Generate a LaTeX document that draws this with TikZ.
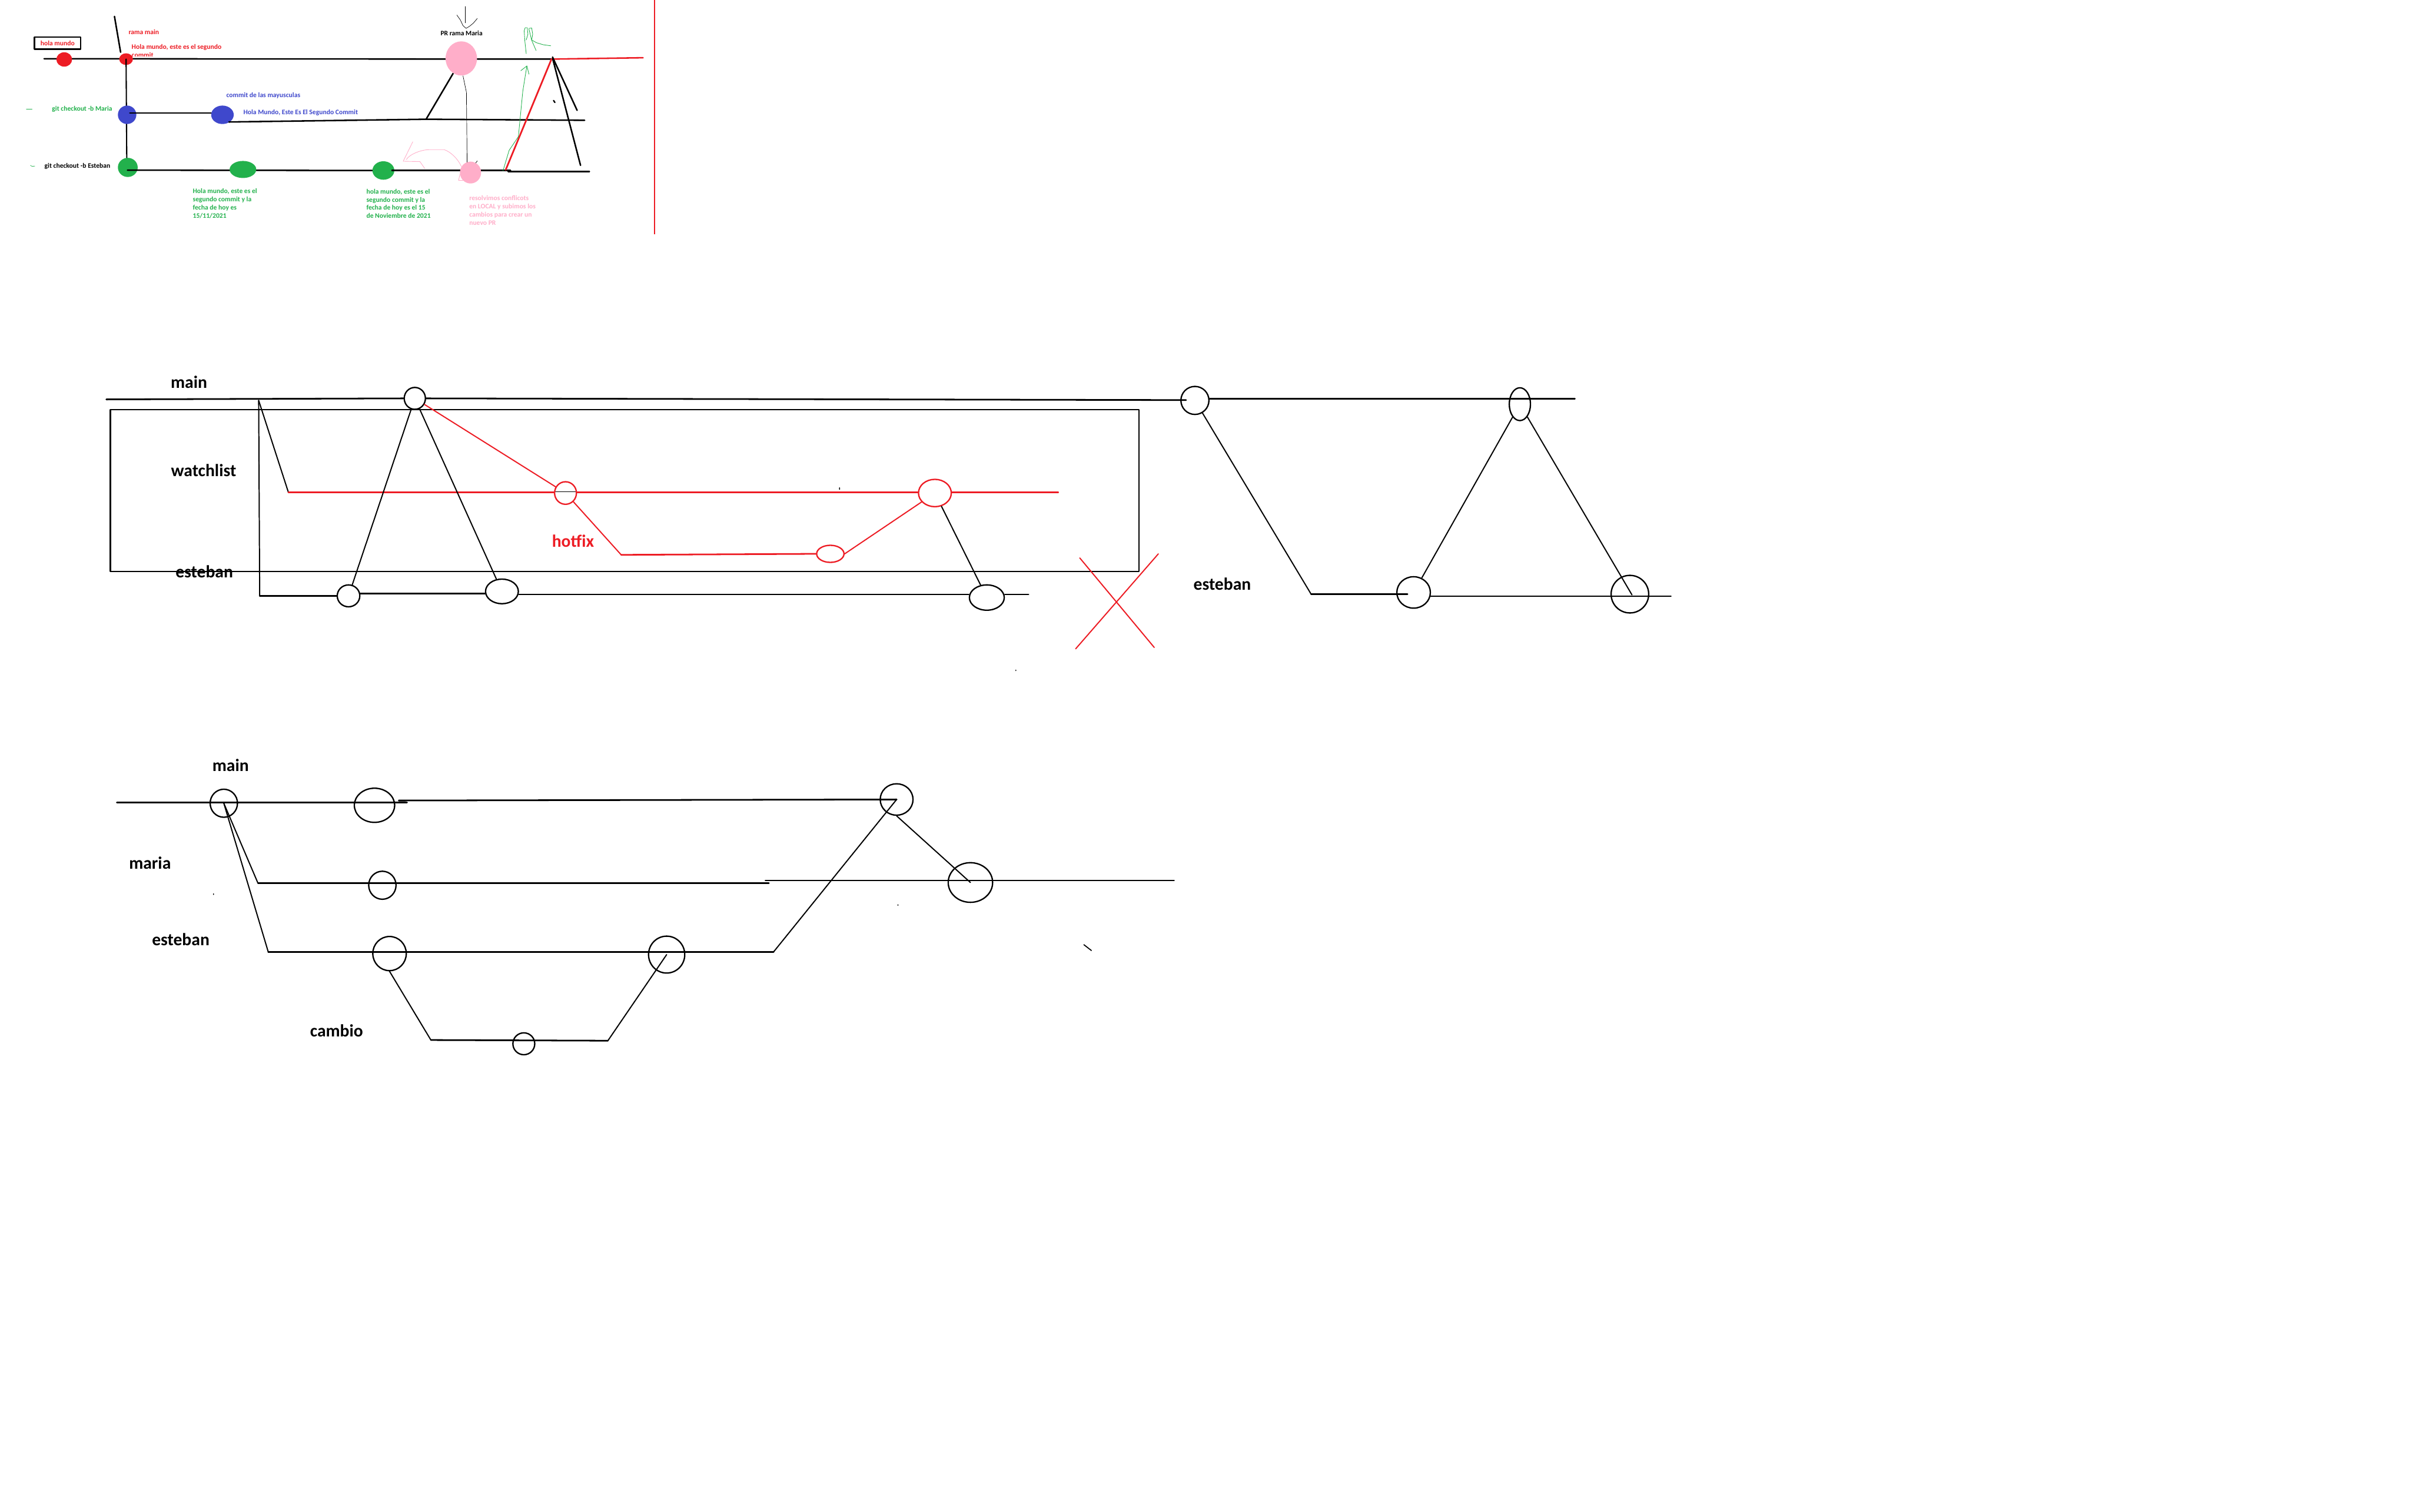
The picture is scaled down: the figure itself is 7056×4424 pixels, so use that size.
\documentclass[tikz,border=0pt]{standalone}
\usepackage{fontspec}
\newfontfamily\carl{Carlito}
\usetikzlibrary{shapes.geometric}
\definecolor{pred}{HTML}{ED1C24}
\definecolor{pblue}{HTML}{3F48CC}
\definecolor{pgreen}{HTML}{22B14C}
\definecolor{ppink}{HTML}{FFAEC9}
\begin{document}
\begin{tikzpicture}[x=0.5pt,y=-0.5pt,line cap=round,line join=round,
  tt/.style={font=\carl\bfseries\fontsize{10}{12}\selectfont,inner sep=0pt,align=left},
  bl/.style={font=\carl\bfseries\fontsize{25.5}{30}\selectfont,inner sep=0pt},
  tl/.style={line width=2.2pt},
  br/.style={line width=2.4pt},
  cn/.style={line width=1.7pt},
  hl/.style={line width=0.75pt},
  cmt/.style 2 args={ellipse,draw,line width=2pt,minimum width=#1pt,minimum height=#2pt,inner sep=0pt},
  pdot/.style 2 args={ellipse,minimum width=#1pt,minimum height=#2pt,inner sep=0pt},
]
\useasboundingbox[fill=white] (0,0) rectangle (7056,4424);

% ================= TOP SKETCH =================
\node[draw,line width=2pt,minimum width=67.5pt,minimum height=18pt,inner sep=0pt,text=pred,
      font=\carl\bfseries\fontsize{10}{12}\selectfont] (hbox) at (168.5,126) {hola mundo};

\coordinate (tm0) at (129,172);
\coordinate (tmJ) at (1614,173);
\draw[tl] (tm0) -- (tmJ);
\node[pdot={23}{21},fill=pred] (r1) at (188,174) {};
\node[pdot={20}{17},fill=pred] (r2) at (369,173) {};
\coordinate (sl0) at (335,48);
\coordinate (sl1) at (353,153);
\draw[tl] (sl0) -- (sl1);

\coordinate (vEnd) at (371,470);
\draw[line width=1.8pt] (r2.center) -- (vEnd);
\node[pdot={27}{27},fill=pblue] (b1) at (372,336) {};
\coordinate (bl0) at (380,331);
\coordinate (bl1) at (640,331);
\draw[tl] (bl0) -- (bl1);
\node[pdot={33}{27},fill=pblue] (b2) at (651,336) {};

\coordinate (ma0) at (670,357);
\coordinate (ma1) at (1247,349);
\coordinate (ma2) at (1711,352);
\draw[tl] (ma0) -- (ma1) -- (ma2);

\node[pdot={29}{28},fill=pgreen] (g1) at (374,490) {};
\coordinate (es0) at (373,498);
\coordinate (es1) at (1090,499);
\draw[tl] (es0) -- (es1);
\node[pdot={39}{25},fill=pgreen] (g2) at (711,496) {};
\node[pdot={32}{27},fill=pgreen] (g3) at (1122,499) {};
\coordinate (es2) at (1147,499);
\coordinate (es3) at (1494,499);
\draw[tl] (es2) -- (es3);
\coordinate (es4) at (1487,502);
\coordinate (es5) at (1725,502);
\draw[tl] (es4) -- (es5);

% thin line between pink commits
\coordinate (pv0) at (1355,222);
\coordinate (pv1) at (1365,270);
\coordinate (pv2) at (1367,475);
\draw[line width=0.6pt] (pv0) -- (pv1) -- (pv2);

% pink sketch arrow
\draw[hl,ppink] (1208,415) -- (1180,472) -- (1229,473) -- (1243,493);
\draw[hl,ppink] (1189,467) .. controls (1200,450) and (1235,438) .. (1256,438)
  -- (1300,438) .. controls (1320,445) and (1340,465) .. (1350,487);
\draw[hl,ppink] (1346,510) -- (1342,528) -- (1357,528);

\node[pdot={31}{32},fill=ppink] (p2) at (1377,505) {};
\draw[line width=0.6pt] (1392,477) -- (1397,471);

\coordinate (pm0) at (1326,215);
\draw[tl] (ma1) -- (pm0);
\node[pdot={46}{50},fill=ppink] (p1) at (1350,171) {};

% merge at the right
\coordinate (rl1) at (1882,169);
\draw[tl,pred] (tmJ) -- (rl1);
\coordinate (rm0) at (1480,497);
\draw[line width=2.4pt,pred] (rm0) -- (tmJ);
\coordinate (bk1) at (1689,323);
\coordinate (bk2) at (1699,484);
\draw[tl] (1617,167) -- (bk1);
\draw[tl] (1617,170) -- (bk2);
\draw[line width=2pt] (1620,294) -- (1624,300);
\coordinate (rv0) at (1915,0);
\coordinate (rv1) at (1915,685);
\draw[line width=2pt,pred,line cap=butt] (rv0) -- (rv1);

% green arrow and green R
\draw[hl,pgreen] (1472,500) -- (1490,440) -- (1517,400) -- (1530,267) -- (1538,217) -- (1542,193);
\draw[hl,pgreen] (1524,207) -- (1542,193) -- (1548,217);
\draw[hl,pgreen] (1540,157) -- (1536,120) -- (1534,90) -- (1537,81) -- (1543,81) -- (1545,100) -- (1540,117);
\draw[hl,pgreen] (1548,83) -- (1556,82) -- (1559,100) -- (1556,117) -- (1570,125) -- (1590,131) -- (1612,134);
\draw[hl,pgreen] (1548,85) -- (1556,118) -- (1569,148);

% black down arrow
\draw[line width=0.6pt] (1362,19) -- (1362,67);
\draw[line width=0.6pt] (1337,44) -- (1347,58) -- (1355,75) -- (1364,83) -- (1374,77) -- (1385,68) -- (1397,54);

% small marks
\draw[line width=0.6pt,pgreen] (77,320) -- (94,320);
\draw[line width=0.6pt,pgreen] (89,484) -- (94,487) -- (102,486);

% top texts
\node[tt,text=pred,anchor=west] (trm) at (376,93) {rama main};
\node[tt,text=pred,anchor=west] (ths) at (385,138) {Hola mundo, este es el segundo};
\begin{scope}
\clip (380,140) rectangle (470,164);
\node[tt,text=pred,anchor=base west] (tcmt) at (385,168) {commit};
\end{scope}
\node[tt,text=pgreen,anchor=west] (tgm) at (152,319) {git checkout -b Maria};
\node[tt,text=pblue,anchor=west] (tcm) at (662,280) {commit de las mayusculas};
\node[tt,text=pblue,anchor=west] (thM) at (712,329) {Hola Mundo, Este Es El Segundo Commit};
\node[tt,anchor=west] (tge) at (130,486) {git checkout -b Esteban};
\node[tt,text=pgreen,anchor=west] (tg1) at (564,596) {Hola mundo, este es el\\segundo commit y la\\fecha de hoy es\\15/11/2021};
\node[tt,text=pgreen,anchor=west] (tg2) at (1072,596) {hola mundo, este es el\\segundo commit y la\\fecha de hoy es el 15\\de Noviembre de 2021};
\node[tt,text=ppink,anchor=west] (tpk) at (1373,616) {resolvimos conflicots\\en LOCAL y subimos los\\cambios para crear un\\nuevo PR};
\node[tt,anchor=west] (tpr) at (1289,98) {PR rama Maria};

% ================= MIDDLE DIAGRAM =================
\draw[line width=2pt] (323,1199) rectangle (3333,1673);

\node[cmt={31}{32}] (mA) at (1214,1166) {};
\coordinate (mm0) at (311,1169);
\coordinate (mm1) at (3471,1171);
\draw[br] (mm0) -- (mA.west);
\draw[br] (mA.east) -- (mm1);

\coordinate (bp) at (757,1172);
\coordinate (wl0) at (844,1441);
\coordinate (wl1) at (2067,1439);
\coordinate (ew0) at (760,1744);
\draw[cn] (bp) -- (wl0);
\draw[cn] (bp) -- (ew0);

\draw[line width=0.8pt] (844,1439) -- (wl1);
\node[cmt={32}{33},pred] (wc1) at (1655,1443) {};
\node[cmt={40}{25},pred] (hc) at (2430,1621) {};
\node[cmt={48}{40},pred] (wc2) at (2736,1443) {};
\coordinate (hx0) at (1818,1624);
\coordinate (wl2) at (3097,1441);
\draw[br,pred] (wl0) -- (wc1.west |- wl0);
\draw[br,pred] (wc1.east |- wl2) -- (wc2.west |- wl2);
\draw[br,pred] (wc2.east |- wl2) -- (wl2);
\draw[cn,pred] (mA) -- (wc1);
\draw[cn,pred] (wc1) -- (hx0);
\draw[br,pred] (hx0) -- (hc.west);
\draw[cn,pred] (hc.east) -- (wc2);

\node[cmt={33}{32}] (ec1) at (1020,1744) {};
\node[cmt={48}{36}] (ec2) at (1469,1731) {};
\node[cmt={51}{37}] (ec3) at (2888,1749) {};
\coordinate (ey1) at (1053,1737);
\coordinate (ey2) at (1421,1737);
\coordinate (ew1) at (3010,1740);
\draw[br] (ew0) -- (ec1.west |- ew0);
\draw[br] (ey1) -- (ey2);
\draw[br] (ec2.east |- ew1) -- (ec3.west |- ew1);
\draw[br] (ec3.east |- ew1) -- (ew1);
\draw[cn] (mA) -- (ec1);
\draw[cn] (mA) -- (ec2);
\draw[cn] (wc2) -- (ec3);

% red X
\coordinate (x1) at (3160,1633);
\coordinate (x2) at (3378,1895);
\coordinate (x3) at (3390,1621);
\coordinate (x4) at (3148,1899);
\draw[cn,pred] (x1) -- (x2);
\draw[cn,pred] (x3) -- (x4);

% specks
\fill (2457,1430) ellipse (1.5 and 4);
\fill (2973,1962) ellipse (1.5 and 2.5);

% labels
\node[bl] (lmain) at (553,1118) {main};
\node[bl] (lwatch) at (596,1377) {watchlist};
\node[bl] (lest) at (598,1673) {esteban};
\node[bl,text=pred] (lhot) at (1677,1583) {hotfix};

% right part
\node[cmt={41}{41}] (nA) at (3497,1172) {};
\node[cmt={31}{48}] (nB) at (4448,1183) {};
\node[cmt={49}{46}] (nC) at (4137,1734) {};
\node[cmt={55}{55}] (nD) at (4770,1739) {};
\coordinate (rmE) at (4609,1167);
\draw[br] (nA.east |- rmE) -- (rmE);
\coordinate (e2s) at (3837,1739);
\coordinate (e2a) at (4119,1739);
\coordinate (e2b) at (4186,1745);
\coordinate (e2e) at (4890,1745);
\coordinate (dIn) at (4776,1741);
\draw[cn] (nA) -- (e2s);
\draw[br] (e2s) -- (e2a);
\draw[br] (e2b) -- (e2e);
\draw[cn] (nB) -- (nC);
\draw[cn] (nB) -- (dIn);
\node[bl] (lest2) at (3577,1710) {esteban};

% ================= BOTTOM DIAGRAM =================
\node[cmt={40}{41}] (nE) at (655,2351) {};
\node[cmt={59}{50}] (nF) at (1096,2357) {};
\node[cmt={48}{46}] (nG) at (2624,2340) {};
\node[cmt={40}{41}] (nM) at (1119,2591) {};
\node[cmt={65}{58}] (nH) at (2840,2583) {};
\node[cmt={49}{50}] (nI) at (1140,2791) {};
\node[cmt={53}{54}] (nJ) at (1951,2794) {};
\node[cmt={32}{32}] (nK) at (1533,3055) {};

\coordinate (bm0) at (342,2349);
\coordinate (bm1) at (1191,2349);
\coordinate (bm2) at (1167,2343);
\draw[br] (bm0) -- (bm1);
\draw[br] (bm2) -- (nG.center);
\coordinate (bma0) at (755,2585);
\coordinate (bma1) at (2250,2585);
\coordinate (bma2) at (2240,2577);
\coordinate (bma3) at (3436,2577);
\draw[br] (bma0) -- (bma1);
\draw[br] (bma2) -- (bma3);
\coordinate (bes0) at (785,2786);
\coordinate (bes1) at (2264,2786);
\draw[br] (bes0) -- (bes1);
\draw[cn] (nE.center) -- (bma0);
\draw[cn] (nE.center) -- (bes0);
\draw[cn] (bes1) -- (nG.center);
\draw[cn] (nG.south) -- (nH.center);
\coordinate (cb0) at (1261,3044);
\coordinate (cb1) at (1779,3046);
\draw[cn] (nI.south) -- (cb0);
\draw[br] (cb0) -- (cb1);
\draw[cn] (cb1) -- (nJ.center);

\fill (625,2617) ellipse (1.5 and 3);
\fill (2628,2649) ellipse (2 and 2);
\draw[line width=1.5pt] (3172,2765) -- (3194,2782);

\node[bl] (bmain) at (675,2239) {main};
\node[bl] (bmaria) at (439,2526) {maria};
\node[bl] (besteban) at (529,2750) {esteban};
\node[bl] (bcambio) at (985,3017) {cambio};
\end{tikzpicture}
\end{document}
